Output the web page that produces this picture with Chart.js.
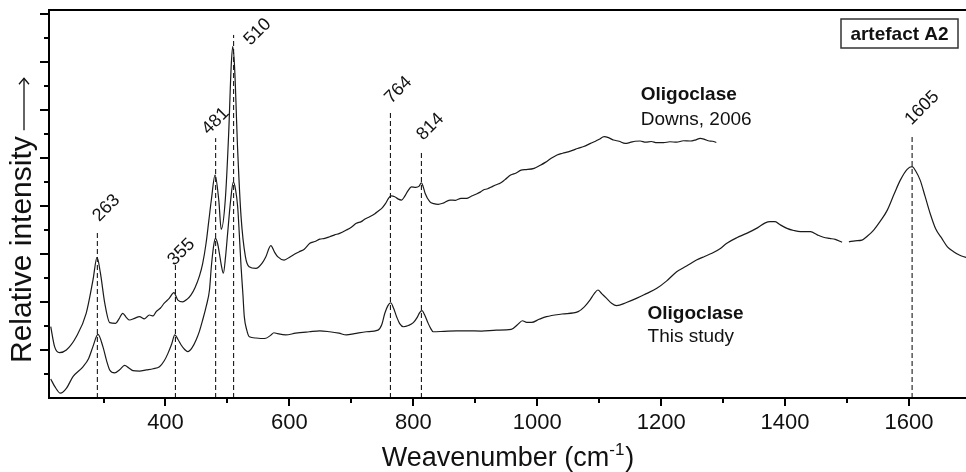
<!DOCTYPE html>
<html>
<head>
<meta charset="utf-8">
<script src="https://cdn.jsdelivr.net/npm/chart.js@4.4.1/dist/chart.umd.min.js"></script>
<style>
  html, body { margin: 0; padding: 0; background: #fff; }
  canvas { display: block; }
</style>
</head>
<body>
<canvas id="raman" width="966" height="472"></canvas>
<script>
// Raman spectra, wavenumber (cm-1) vs relative intensity (arbitrary units)
const downsX = [214.8, 221, 229, 240, 256, 272, 283, 289.5, 295, 302, 310, 319.5, 325, 331, 337, 342, 350, 358, 366, 374,
  380, 385, 392, 398, 406, 413.5, 420, 428, 435, 441, 448, 455, 460, 465.5, 470, 474, 480, 486, 490, 496.5,
  502, 506, 508.5, 511.5, 516.5, 522, 529, 535, 546, 556, 562, 570, 576, 581, 591.5, 601, 611, 618, 624, 633,
  641, 649, 657, 665, 673, 681, 692, 700, 708, 716, 722, 729.5, 738, 744, 749, 755, 760, 764, 770, 775,
  781, 786, 791, 797, 804, 809, 813, 816, 819, 826.5, 833, 840, 848, 859, 868, 877, 886, 893, 900, 908,
  913, 920, 928, 935, 940, 948, 957, 966, 974, 982, 995, 1005, 1013, 1022, 1032, 1041, 1050, 1058, 1065, 1075,
  1086, 1094, 1100, 1108, 1115, 1123, 1132, 1142, 1150, 1158, 1166, 1175, 1184, 1193, 1204, 1214, 1225, 1236, 1247, 1256,
  1263, 1270, 1276, 1283, 1289];
const downsY = [2.97, 2.14, 1.89, 2.00, 2.55, 3.53, 4.92, 5.86, 5.20, 3.95, 3.14, 3.11, 3.30, 3.53, 3.35, 3.25, 3.32, 3.39, 3.30, 3.46,
  3.42, 3.60, 3.75, 3.95, 4.15, 4.39, 4.08, 4.01, 4.12, 4.29, 4.62, 5.10, 5.60, 6.45, 7.40, 8.25, 9.29, 8.25, 7.03, 8.25,
  11.03, 13.80, 14.64, 13.80, 10.33, 7.55, 5.89, 5.47, 5.40, 5.62, 5.89, 6.35, 6.08, 5.89, 5.75, 5.88, 6.03, 6.12, 6.20, 6.45,
  6.52, 6.62, 6.65, 6.72, 6.80, 6.86, 7.00, 7.12, 7.28, 7.35, 7.46, 7.55, 7.68, 7.80, 7.90, 8.10, 8.32, 8.42, 8.39, 8.30,
  8.25, 8.40, 8.62, 8.80, 8.78, 8.82, 8.97, 8.80, 8.53, 8.18, 8.10, 8.07, 8.12, 8.25, 8.24, 8.32, 8.32, 8.40, 8.48, 8.58,
  8.67, 8.72, 8.82, 8.90, 8.95, 9.10, 9.29, 9.38, 9.50, 9.52, 9.57, 9.70, 9.82, 9.98, 10.13, 10.20, 10.26, 10.33, 10.40, 10.48,
  10.61, 10.70, 10.78, 10.89, 10.85, 10.75, 10.70, 10.61, 10.65, 10.70, 10.71, 10.66, 10.69, 10.64, 10.64, 10.68, 10.66, 10.72, 10.71, 10.76,
  10.82, 10.78, 10.72, 10.70, 10.65];

const studyX = [214.8, 222, 230.5, 240, 250.7, 266.8, 276, 282.9, 291, 299, 305, 310, 318, 326, 334, 341, 347.4, 358, 369, 380,
  390.3, 398, 404, 410, 415, 420, 425.3, 431, 436, 443, 449.4, 455, 460, 466, 471, 474, 477.5, 480.5, 484, 487,
  490, 493.4, 497, 500.3, 505, 509.5, 513, 516.5, 519, 522, 525, 527.2, 531, 535.3, 546, 556, 562, 570, 575, 581,
  594, 610, 632, 649, 665, 680, 692, 705, 724, 743, 749, 754, 759, 763.5, 768, 773, 778, 784, 792, 800,
  806, 810, 814, 818, 824, 828, 832, 850, 870, 886, 910, 934, 958, 968, 976, 983, 991, 1003, 1015, 1040,
  1066, 1076, 1085, 1092, 1098, 1104, 1112, 1120, 1128, 1144, 1160, 1176, 1193, 1209, 1225, 1241, 1257, 1270, 1282, 1295,
  1306, 1322, 1338, 1356, 1368, 1376, 1384, 1392, 1403, 1414, 1425, 1441, 1452, 1462, 1472, 1481, 1492, 1497, 1503, 1513,
  1524, 1533, 1543, 1554, 1565, 1576, 1586, 1597, 1605, 1611, 1618, 1626, 1634, 1643, 1653, 1662, 1672, 1682, 1692];
const studyY = [0.79, 0.45, 0.20, 0.40, 0.89, 1.30, 1.65, 2.14, 2.65, 2.14, 1.55, 1.17, 1.05, 1.18, 1.36, 1.25, 1.14, 1.12, 1.17, 1.22,
  1.30, 1.55, 1.86, 2.25, 2.63, 2.45, 2.21, 2.02, 1.93, 2.10, 2.42, 2.80, 3.25, 3.85, 4.50, 5.47, 6.30, 6.65, 6.45, 6.03,
  5.55, 5.20, 5.90, 6.86, 8.20, 9.01, 8.70, 7.97, 6.90, 5.47, 4.30, 3.39, 2.85, 2.55, 2.50, 2.48, 2.49, 2.62, 2.72, 2.68,
  2.63, 2.70, 2.76, 2.80, 2.76, 2.70, 2.63, 2.68, 2.76, 2.83, 3.05, 3.53, 3.85, 3.97, 3.75, 3.39, 3.10, 2.97, 3.02, 3.14,
  3.35, 3.55, 3.64, 3.48, 3.11, 2.90, 2.76, 2.78, 2.80, 2.80, 2.79, 2.83, 2.86, 3.05, 3.22, 3.15, 3.15, 3.28, 3.39, 3.50,
  3.60, 3.80, 4.08, 4.35, 4.50, 4.35, 4.15, 3.95, 3.85, 3.98, 4.15, 4.35, 4.57, 4.88, 5.26, 5.50, 5.75, 5.90, 6.03, 6.22,
  6.45, 6.68, 6.86, 7.10, 7.30, 7.35, 7.35, 7.22, 7.07, 6.98, 6.93, 6.93, 6.80, 6.70, 6.65, 6.61, 6.49, null, 6.51, 6.55,
  6.58, 6.75, 7.00, 7.38, 7.83, 8.50, 9.08, 9.53, 9.64, 9.45, 9.08, 8.40, 7.70, 7.05, 6.65, 6.30, 6.10, 5.95, 5.86];

// marked bands: where the dashed line sits, how high it reaches, and its printed label
const peakPos = [290, 416, 481, 510, 763, 813, 1605];
const peakTop = [7.0, 5.54, 10.83, 15.13, 12.0, 10.26, 10.96];
const peakLabels = ['263', '355', '481', '510', '764', '814', '1605'];

const xTickValues = [400, 600, 800, 1000, 1200, 1400, 1600];
const xMinorTicks = [300, 500, 700, 900, 1100, 1300, 1500];

// label placement (pixels from the top of each dashed line)
const labelOffsets = [[9, -22], [6, -13], [0, -17], [24, -3], [8, -20], [9, -25], [10, -27]];

const FONT = "'Liberation Sans', Arial, sans-serif";
Chart.defaults.font.family = FONT;

function toPoints(xs, ys) {
    return xs.map((x, i) => ({x: x, y: ys[i]}));
}

const peakSets = peakPos.map((p, i) => ({
    data: [{x: p, y: 0}, {x: p, y: peakTop[i]}],
    borderColor: '#000',
    borderWidth: 1,
    borderDash: [5, 3],
    pointRadius: 0,
    tension: 0
}));

const decor = {
    id: 'decor',
    afterDraw(chart) {
        const ctx = chart.ctx;
        const area = chart.chartArea;
        const xs = chart.scales.x;
        const ys = chart.scales.y;
        ctx.save();

        // top frame line
        ctx.strokeStyle = '#000';
        ctx.lineWidth = 2;
        ctx.beginPath();
        ctx.moveTo(area.left - 1, area.top);
        ctx.lineTo(area.right, area.top);
        ctx.stroke();

        // minor x ticks
        ctx.lineWidth = 2;
        xMinorTicks.forEach(v => {
            const px = Math.round(xs.getPixelForValue(v));
            ctx.beginPath();
            ctx.moveTo(px, area.bottom);
            ctx.lineTo(px, area.bottom + 5);
            ctx.stroke();
        });

        // y ticks, long on even steps
        for (let k = 1; k <= 16; k++) {
            const py = Math.round(ys.getPixelForValue(k));
            const len = k % 2 === 0 ? 9 : 5;
            ctx.beginPath();
            ctx.moveTo(area.left, py);
            ctx.lineTo(area.left - len, py);
            ctx.stroke();
        }

        // peak labels
        ctx.fillStyle = '#111';
        ctx.font = '18px ' + FONT;
        ctx.textAlign = 'center';
        ctx.textBaseline = 'middle';
        peakPos.forEach((p, i) => {
            const px = xs.getPixelForValue(p) + labelOffsets[i][0];
            const py = ys.getPixelForValue(peakTop[i]) + labelOffsets[i][1];
            ctx.save();
            ctx.translate(px, py);
            ctx.rotate(-Math.PI / 4);
            ctx.fillText(peakLabels[i], 0, 0);
            ctx.restore();
        });

        // series captions
        ctx.textAlign = 'left';
        ctx.font = 'bold 19px ' + FONT;
        ctx.fillText('Oligoclase', xs.getPixelForValue(1167), ys.getPixelForValue(12.63));
        ctx.fillText('Oligoclase', xs.getPixelForValue(1178), ys.getPixelForValue(3.53));
        ctx.font = '19px ' + FONT;
        ctx.fillText('Downs, 2006', xs.getPixelForValue(1167), ys.getPixelForValue(11.58));
        ctx.fillText('This study', xs.getPixelForValue(1178), ys.getPixelForValue(2.54));

        // sample box
        const bx = area.right - 125, by = area.top + 9, bw = 117, bh = 29;
        ctx.lineWidth = 1.5;
        ctx.strokeStyle = '#333';
        ctx.strokeRect(bx, by, bw, bh);
        ctx.font = 'bold 19px ' + FONT;
        ctx.textAlign = 'center';
        ctx.fillText('artefact A2', bx + bw / 2, by + bh / 2 + 1);

        // x title with superscript
        const mainFont = '27px ' + FONT;
        const supFont = '17px ' + FONT;
        const p1 = 'Weavenumber (cm', sup = '-1', p2 = ')';
        ctx.font = mainFont;
        const w1 = ctx.measureText(p1).width, w3 = ctx.measureText(p2).width;
        ctx.font = supFont;
        const w2 = ctx.measureText(sup).width;
        let tx = (area.left + area.right) / 2 - (w1 + w2 + w3) / 2;
        const ty = 466;
        ctx.textAlign = 'left';
        ctx.textBaseline = 'alphabetic';
        ctx.font = mainFont;
        ctx.fillText(p1, tx, ty);
        ctx.font = supFont;
        ctx.fillText(sup, tx + w1, ty - 11);
        ctx.font = mainFont;
        ctx.fillText(p2, tx + w1 + w2 + 1, ty);

        // y title with arrow
        ctx.save();
        ctx.translate(31, 363);
        ctx.rotate(-Math.PI / 2);
        ctx.font = '30px ' + FONT;
        ctx.fillText('Relative intensity', 0, 0);
        const tw = ctx.measureText('Relative intensity').width;
        ctx.lineWidth = 1.3;
        ctx.strokeStyle = '#111';
        ctx.beginPath();
        ctx.moveTo(tw + 6, -7);
        ctx.lineTo(tw + 58, -7);
        ctx.stroke();
        ctx.beginPath();
        ctx.moveTo(tw + 52, -12);
        ctx.lineTo(tw + 58, -7);
        ctx.lineTo(tw + 52, -2);
        ctx.stroke();
        ctx.restore();

        ctx.restore();
    }
};

new Chart(document.getElementById('raman'), {
    type: 'line',
    data: {
        datasets: [
            {
                label: 'Oligoclase, Downs 2006',
                data: toPoints(downsX, downsY),
                borderColor: '#1a1a1a',
                borderWidth: 1.2,
                pointRadius: 0,
                cubicInterpolationMode: 'monotone'
            },
            {
                label: 'Oligoclase, this study',
                data: toPoints(studyX, studyY),
                borderColor: '#1a1a1a',
                borderWidth: 1.2,
                pointRadius: 0,
                spanGaps: false,
                cubicInterpolationMode: 'monotone'
            }
        ].concat(peakSets)
    },
    options: {
        responsive: false,
        animation: false,
        layout: {padding: {top: 10, left: 0, right: 0, bottom: 0}},
        plugins: {
            legend: {display: false},
            tooltip: {enabled: false}
        },
        scales: {
            x: {
                type: 'linear',
                min: 212,
                max: 1692,
                afterBuildTicks: s => { s.ticks = xTickValues.map(v => ({value: v})); },
                afterFit: s => { s.height = 74; },
                grid: {drawOnChartArea: false, drawTicks: true, tickLength: 8, color: '#000', lineWidth: 2},
                border: {display: true, color: '#000', width: 2},
                ticks: {
                    font: {size: 22},
                    color: '#111',
                    padding: 4,
                    maxRotation: 0,
                    autoSkip: false,
                    callback: v => String(v)
                }
            },
            y: {
                type: 'linear',
                min: 0,
                max: 16.17,
                afterFit: s => { s.width = 49; },
                grid: {display: false},
                border: {display: true, color: '#000', width: 2},
                ticks: {display: false}
            }
        }
    },
    plugins: [decor]
});
</script>
</body>
</html>
